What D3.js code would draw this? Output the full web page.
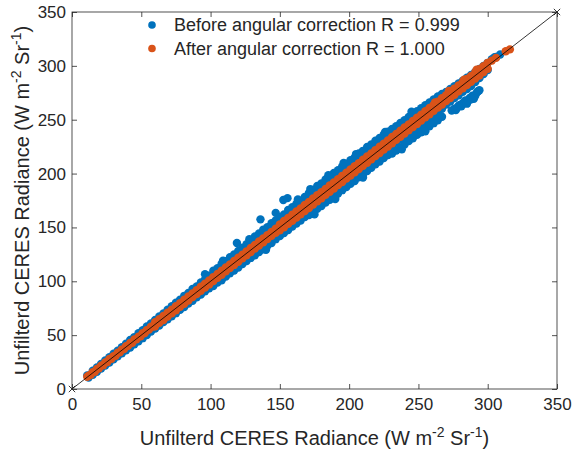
<!DOCTYPE html>
<html>
<head>
<meta charset="utf-8">
<script src="https://cdn.jsdelivr.net/npm/d3@7"></script>
<style>
  body { margin: 0; background: #fff; }
  text { font-family: "Liberation Sans", Arial, Helvetica, sans-serif; fill: #262626; }
</style>
</head>
<body>
<div id="chart"></div>
<script>
const ticks = [0, 50, 100, 150, 200, 250, 300, 350];
const legendLabels = ["Before angular correction R = 0.999", "After angular correction R = 1.000"];

// before angular correction (blue)
const before = [
  [11,12.6],[12,10.6],[15,16.9],[15,13.2],[18,20.1],[18,16.0],[21,23.2],[21,19.1],[24,26.4],[24,21.8],
  [27,29.5],[27,24.6],[30,32.8],[30,27.5],[33,35.6],[33,30.3],[36,38.9],[36,33.2],[39,42.1],[39,36.0],
  [42,45.6],[42,38.5],[45,48.2],[45,41.6],[48,51.9],[48,44.3],[51,54.6],[51,47.2],[54,58.1],[54,50.1],
  [57,60.8],[57,53.4],[60,64.2],[60,56.1],[63,67.3],[63,59.0],[66,70.1],[66,62.2],[69,73.6],[69,64.8],
  [72,76.8],[72,67.5],[75,80.2],[75,70.4],[78,82.9],[78,73.6],[81,86.5],[81,76.1],[84,89.2],[84,79.4],
  [87,92.8],[87,81.9],[90,95.1],[90,85.2],[93,98.9],[93,87.6],[96,101.7],[96,90.8],[99,105.3],[99,93.5],
  [96,106.5],[109,119.0],
  [102,109.8],[102,106.0],[102,98.9],[102,95.6],[105,112.1],[105,108.4],[105,101.6],[105,98.8],
  [108,116.2],[108,111.3],[108,104.5],[108,101.0],[111,118.6],[111,114.9],[111,107.2],[111,104.3],
  [114,122.4],[114,117.6],[114,110.6],[114,107.5],[117,124.9],[117,120.8],[117,113.1],[117,110.0],
  [120,128.1],[120,123.9],[120,116.5],[120,112.8],[123,131.2],[123,126.5],[123,119.4],[123,116.1],
  [126,134.4],[126,129.8],[126,122.2],[126,118.9],[129,137.0],[129,132.6],[129,125.3],[129,121.7],
  [132,141.6],[132,136.1],[132,127.9],[132,124.2],[135,144.3],[135,139.4],[135,131.0],[135,127.1],
  [138,147.8],[138,142.0],[138,133.6],[138,129.8],[141,150.2],[141,145.3],[141,136.9],[141,133.0],
  [144,153.9],[144,148.2],[144,139.7],[144,135.6],[147,156.4],[147,151.6],[147,142.4],[147,139.1],
  [150,159.8],[150,154.3],[150,145.6],[150,141.9],[153,162.1],[153,157.7],[153,148.3],[153,144.8],
  [156,166.2],[156,160.4],[156,151.5],[156,147.6],[159,168.7],[159,163.5],[159,154.2],[159,150.9],
  [162,172.0],[162,166.6],[162,157.6],[162,153.7],[165,174.6],[165,169.3],[165,160.1],[165,156.4],
  [168,178.3],[168,172.7],[168,163.4],[168,159.6],[171,182.1],[171,175.9],[171,166.2],[171,161.4],
  [174,184.8],[174,178.5],[174,169.5],[174,164.2],[177,188.4],[177,182.0],[177,172.1],[177,167.3],
  [180,190.9],[180,184.6],[180,175.4],[180,169.8],[183,194.5],[183,187.8],[183,178.0],[183,173.1],
  [186,196.8],[186,190.5],[186,181.3],[186,175.7],[189,200.6],[189,193.9],[189,184.2],[189,178.9],
  [192,203.1],[192,196.4],[192,187.1],[192,181.5],[195,206.7],[195,199.8],[195,190.0],[195,184.6],
  [198,209.2],[198,202.5],[198,193.2],[198,187.4],[201,212.5],[201,205.7],[201,196.1],[201,190.6],
  [204,215.0],[204,208.4],[204,199.0],[204,193.1],[207,218.6],[207,211.9],[207,202.3],[207,196.5],
  [210,221.1],[210,214.5],[210,205.0],[210,199.2],[213,224.7],[213,217.6],[213,208.1],[213,202.4],
  [216,227.0],[216,220.3],[216,211.2],[216,205.3],[219,230.5],[219,223.8],[219,214.0],[219,208.6],
  [222,233.1],[222,226.4],[222,217.1],[222,211.2],[225,236.2],[225,229.7],[225,220.3],[225,214.5],
  [228,238.9],[228,232.2],[228,223.0],[228,217.1],[231,241.4],[231,235.1],[231,225.9],[231,218.6],
  [234,244.0],[234,238.2],[234,228.7],[234,221.4],[237,246.9],[237,240.8],[237,231.6],[237,224.3],
  [240,249.6],[240,243.7],[240,234.2],[240,226.9],[243,252.5],[243,246.4],[243,237.0],[243,230.1],
  [246,255.3],[246,249.1],[246,240.1],[246,232.8],[249,258.0],[249,252.3],[249,242.6],[249,235.9],
  [252,260.7],[252,254.9],[252,245.7],[252,238.4],[255,263.4],[255,257.6],[255,248.3],[255,241.6],
  [258,266.1],[258,260.4],[258,251.4],[258,243.9],[261,268.8],[261,263.0],[261,254.0],[261,246.8],
  [264,271.5],[264,265.9],[264,257.2],[264,249.5],[267,274.0],[267,268.6],[267,260.1],[267,252.7],
  [270,275.8],[270,264.1],[270,268.9],[273,278.5],[273,266.8],[276,281.0],[276,270.2],[279,283.7],[279,272.6],
  [282,286.2],[282,275.9],[285,289.1],[285,278.4],[288,291.6],[288,281.2],[291,294.4],[291,285.0],
  [294,297.2],[294,288.6],[297,300.0],[297,292.3],[300,302.8],[300,296.1],[303,306.1],[306,308.2],
  [305,308.0],[309,310.5],
  [274,258.6],[276,260.2],[277,259.0],[278,261.1],[279,263.0],[280,263.8],[281,262.4],[282,265.2],
  [283,266.5],[284,268.0],[285,264.9],[286,267.5],[287,270.1],[288,269.0],[289,272.3],[290,269.4],
  [291,272.2],[292,275.0],[293,276.5],[294,277.4],
  [119,135.5],[128,139.0],[136,157.5],[147,163.5],[152.5,175.5],[155.5,177.2],
  // bumps along the edges of the band
  [172,185.6],[185,198.4],[205,218.1],[226,238.7],[245,257.4],[163,175.9],[196,209.8],
  [140,129.3],[175,162.1],[210,196.3],[255,239.2],[238,222.5],[190,176.4]
];

// after angular correction (orange)
const after = [
  [11,11.4],[12,12.4],[13.5,13.2],[15,15.6],[16.5,16.1],[18,18.5],[19.5,19.2],[21,21.7],[22.5,22.1],[24,24.6],
  [25.5,25.0],[27,27.8],[28.5,28.1],[30,30.5],[31.5,30.9],[33,33.7],[34.5,34.0],[36,36.6],[37.5,37.0],[39,39.8],
  [40.5,40.1],[42,42.7],[43.5,43.0],[45,45.9],[46.5,46.1],[48,48.6],[49.5,49.0],[51,51.8],[52.5,52.0],[54,54.7],
  [55.5,55.1],[57,57.9],[58.5,58.0],
  [60,61.9],[60,58.3],[63,64.7],[63,61.4],[66,67.8],[66,64.1],[69,70.9],[69,67.3],[72,73.6],[72,70.2],
  [75,76.9],[75,73.1],[78,79.7],[78,76.4],[81,82.8],[81,79.2],[84,85.9],[84,82.1],[87,88.6],[87,85.3],
  [90,91.8],[90,88.1],[93,94.9],[93,91.2],[96,97.7],[96,94.3],[99,100.8],[99,97.1],[102,103.9],[102,100.2],
  [105,106.7],[105,103.3],[108,109.8],[108,106.1],[111,112.9],[111,109.2],[114,115.7],[114,112.4],[117,118.8],[117,115.2],
  [120,121.9],[120,118.1],[123,124.7],[123,121.3],[126,127.8],[126,124.2],[129,130.9],[129,127.1],[132,133.7],[132,130.4],
  [135,136.9],[135,133.2],[138,139.8],[138,136.1],[141,142.7],[141,139.3],[144,145.9],[144,142.2],[147,148.8],[147,145.1],
  [150,152.8],[150,147.3],[153,155.9],[153,150.1],[156,158.7],[156,153.4],[159,161.9],[159,156.2],[162,164.8],[162,159.1],
  [165,167.6],[165,162.3],[168,170.9],[168,165.2],[171,173.7],[171,168.1],[174,176.8],[174,171.3],[177,179.9],[177,174.2],
  [180,182.7],[180,177.1],[183,185.8],[183,180.3],[186,188.9],[186,183.1],[189,191.7],[189,186.2],[192,194.8],[192,189.3],
  [195,197.9],[195,192.1],[198,200.7],[198,195.3],[201,203.8],[201,198.2],[204,206.9],[204,201.1],[207,209.7],[207,204.3],
  [210,212.8],[210,207.2],[213,215.9],[213,210.1],[216,218.7],[216,213.3],[219,221.8],[219,216.2],[222,224.9],[222,219.1],
  [225,227.7],[225,222.3],[228,230.8],[228,225.2],[231,233.9],[231,228.1],[234,236.7],[234,231.3],[237,239.8],[237,234.2],
  [240,242.9],[240,237.1],[243,245.7],[243,240.3],[246,248.8],[246,243.2],[249,251.9],[249,246.1],[252,254.7],[252,249.3],
  [255,257.8],[255,252.2],[258,260.9],[258,255.1],[261,263.7],[261,258.3],[264,266.8],[264,261.2],[267,269.9],[267,264.1],
  [270,272.7],[270,267.3],[273,275.8],[273,270.2],[276,278.9],[276,273.1],[279,281.7],[279,276.3],[282,284.8],[282,279.2],
  [285,287.9],[285,282.1],[288,290.7],[288,285.3],[291,293.8],[291,288.2],[294,296.9],[294,291.1],[297,299.7],[297,294.3],
  [300,302.8],[300,297.2],[303,304.9],[306,307.4],[313,313.6],[316,315.3],
  [262,266.1],[272,276.8],[283,287.2],[292,296.5]
];

const diagonal = [[0, 0], [350, 350]];

const W = 572, H = 454;
const m = { l: 72, t: 12, r: 15, b: 65 };
const blue = "#0072BD", orange = "#D95319", axisCol = "#262626";
const dotR = 4.2;

const svg = d3.select("#chart").append("svg").attr("width", W).attr("height", H);

const x = d3.scaleLinear().domain([0, 350]).range([m.l, W - m.r]);
const y = d3.scaleLinear().domain([0, 350]).range([H - m.b, m.t]);

const plot = svg.append("g");

plot.append("g").selectAll("circle").data(before).join("circle")
  .attr("cx", d => x(d[0])).attr("cy", d => y(d[1])).attr("r", dotR).attr("fill", blue);

plot.append("g").selectAll("circle").data(after).join("circle")
  .attr("cx", d => x(d[0])).attr("cy", d => y(d[1])).attr("r", dotR).attr("fill", orange);

plot.append("path")
  .attr("d", d3.line().x(d => x(d[0])).y(d => y(d[1]))(diagonal))
  .attr("stroke", "#000").attr("stroke-width", 0.8).attr("fill", "none");

// x markers at both ends of the 1:1 line
const cross = d3.symbol().type(d3.symbolX).size(28);
plot.selectAll(".end").data(diagonal).join("path")
  .attr("transform", d => `translate(${x(d[0])},${y(d[1])})`)
  .attr("d", cross).attr("stroke", "#000").attr("stroke-width", 0.8).attr("fill", "none");

// axes with inward ticks on all four sides
function styleAxis(g) {
  g.select(".domain").remove();
  g.selectAll(".tick line").attr("stroke", axisCol).attr("stroke-width", 0.8);
  g.selectAll(".tick text").attr("font-size", 17).attr("fill", axisCol)
    .style("font-family", '"Liberation Sans", Arial, sans-serif');
}

svg.append("g").attr("transform", `translate(0,${y(0)})`)
  .call(d3.axisBottom(x).tickValues(ticks).tickSizeInner(-5).tickSizeOuter(0).tickPadding(9))
  .call(styleAxis);
svg.append("g").attr("transform", `translate(${x(0)},0)`)
  .call(d3.axisLeft(y).tickValues(ticks).tickSizeInner(-5).tickSizeOuter(0).tickPadding(6))
  .call(styleAxis);
svg.append("g").attr("transform", `translate(0,${y(350)})`)
  .call(d3.axisTop(x).tickValues(ticks).tickSizeInner(-5).tickSizeOuter(0).tickFormat(""))
  .call(styleAxis);
svg.append("g").attr("transform", `translate(${x(350)},0)`)
  .call(d3.axisRight(y).tickValues(ticks).tickSizeInner(-5).tickSizeOuter(0).tickFormat(""))
  .call(styleAxis);

svg.append("rect")
  .attr("x", x(0)).attr("y", y(350)).attr("width", x(350) - x(0)).attr("height", y(0) - y(350))
  .attr("fill", "none").attr("stroke", axisCol).attr("stroke-width", 0.8);

// axis titles with superscripts
function radianceLabel(t) {
  t.append("tspan").text("Unfilterd CERES Radiance (W m");
  t.append("tspan").text("-2").attr("font-size", 14).attr("dy", -8);
  t.append("tspan").text(" Sr").attr("dy", 8);
  t.append("tspan").text("-1").attr("font-size", 14).attr("dy", -8);
  t.append("tspan").text(")").attr("dy", 8);
}

svg.append("text")
  .attr("x", (x(0) + x(350)) / 2).attr("y", 445)
  .attr("text-anchor", "middle").attr("font-size", 20)
  .call(radianceLabel);

svg.append("text")
  .attr("transform", `translate(29,${(y(0) + y(350)) / 2}) rotate(-90)`)
  .attr("text-anchor", "middle").attr("font-size", 20)
  .call(radianceLabel);

// legend
const legend = svg.append("g");
const legendRows = legend.selectAll("g").data(legendLabels).join("g")
  .attr("transform", (d, i) => `translate(152,${25 + i * 23.5})`);
legendRows.append("circle").attr("r", 3.8).attr("fill", (d, i) => i === 0 ? blue : orange);
legendRows.append("text").attr("x", 22).attr("dy", "0.35em").attr("font-size", 18).text(d => d);
</script>
</body>
</html>
